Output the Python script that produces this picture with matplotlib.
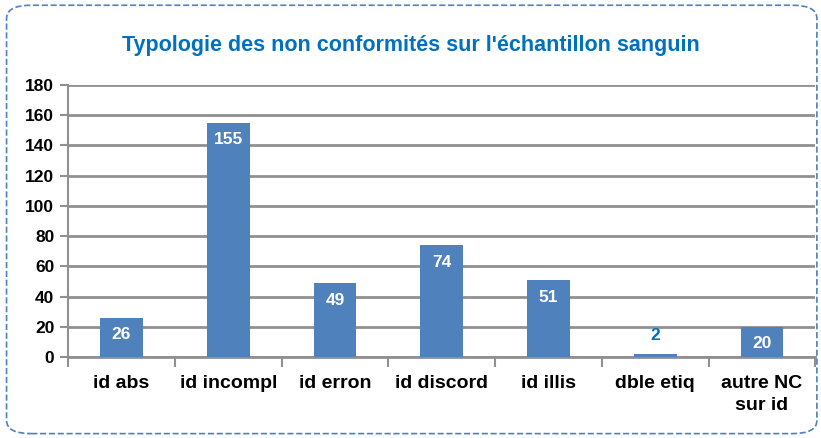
import matplotlib.pyplot as plt
from matplotlib.patches import FancyBboxPatch

categories = ['id abs', 'id incompl', 'id erron', 'id discord', 'id illis', 'dble etiq', 'autre NC\nsur id']
values = [26, 155, 49, 74, 51, 2, 20]
yticks = [0, 20, 40, 60, 80, 100, 120, 140, 160, 180]

plt.rcParams['font.family'] = ['Liberation Sans', 'DejaVu Sans']
plt.rcParams['font.weight'] = 'bold'

fig = plt.figure(figsize=(8.21, 4.38), dpi=100)
ax = fig.add_axes([0.083, 0.185, 0.910, 0.621])

bar_color = '#4F81BD'
x = list(range(len(categories)))
ax.bar(x, values, width=0.4, color=bar_color, zorder=3)

for xi, v in zip(x, values):
    if v > 10:
        ax.annotate(str(v), (xi, v), xytext=(0, -7), textcoords='offset points',
                    ha='center', va='top', color='white', fontsize=12.5, fontweight='bold', zorder=4)
    else:
        ax.annotate(str(v), (xi, v), xytext=(0, 8), textcoords='offset points',
                    ha='center', va='bottom', color='#0070C0', fontsize=12.5, fontweight='bold', zorder=4)

ax.set_xlim(-0.5, len(categories) - 0.5)
ax.set_ylim(0, 180)
ax.set_yticks(yticks)
ax.yaxis.grid(True, color='#909090', linewidth=2, zorder=0)
ax.tick_params(axis='y', length=6, width=1.5, color='#909090', labelsize=12.5, pad=4)

# category boundary ticks, labels centred between them
ax.set_xticks([i - 0.5 for i in range(len(categories) + 1)])
ax.set_xticklabels([])
ax.set_xticks(x, minor=True)
ax.set_xticklabels(categories, minor=True, fontsize=14, fontweight='bold', linespacing=1.4)
ax.tick_params(axis='x', which='major', length=7, width=1.5, color='#909090')
ax.tick_params(axis='x', which='minor', length=0, pad=13)

for s in ['top', 'right']:
    ax.spines[s].set_visible(False)
ax.spines['left'].set_color('#909090')
ax.spines['left'].set_linewidth(1.5)
ax.spines['bottom'].set_color('#909090')
ax.spines['bottom'].set_linewidth(2)

fig.text(0.5, 0.897, "Typologie des non conformités sur l'échantillon sanguin",
         ha='center', va='center', color='#0070C0', fontsize=15.5, fontweight='bold')

border = FancyBboxPatch((0.008, 0.01), 0.987, 0.978, transform=fig.transFigure,
                        boxstyle='round,pad=0,rounding_size=0.03', fill=False,
                        edgecolor='#4F81BD', linewidth=1.2, linestyle='--')
fig.patches.append(border)

fig.savefig('out.png', dpi=100)
